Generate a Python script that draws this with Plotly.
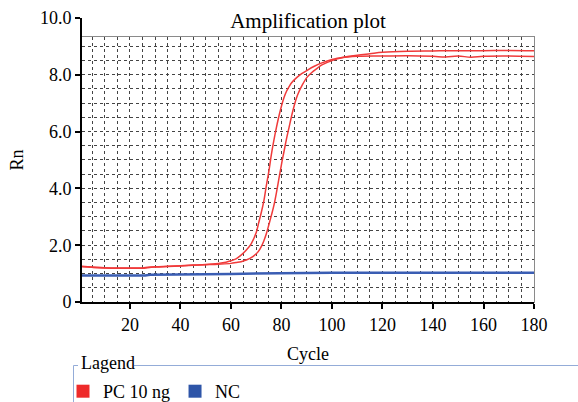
import plotly.graph_objects as go

# ---- data ----
pc_a_cycle = [1, 5, 10, 15, 20, 25, 27, 30, 35, 40, 45, 50, 55, 58, 60, 62, 64, 66, 68, 70, 71, 72, 73, 74, 75,
              76, 77, 78, 79, 80, 81, 82, 83, 84, 86, 88, 90, 93, 96, 100, 105, 110, 115, 120, 130, 140, 150,
              160, 170, 180]
pc_a_rn = [1.26, 1.23, 1.21, 1.20, 1.20, 1.20, 1.22, 1.24, 1.26, 1.28, 1.30, 1.32, 1.36, 1.40, 1.45, 1.52, 1.65,
           1.82, 2.05, 2.45, 2.80, 3.15, 3.55, 4.10, 4.60, 5.20, 5.70, 6.15, 6.55, 6.90, 7.20, 7.42, 7.58, 7.72,
           7.90, 8.04, 8.15, 8.30, 8.42, 8.54, 8.63, 8.69, 8.74, 8.79, 8.83, 8.84, 8.85, 8.85, 8.86, 8.85]

pc_b_cycle = [1, 5, 10, 15, 20, 25, 27, 30, 35, 40, 45, 50, 55, 60, 62, 64, 66, 68, 70, 71, 72, 73, 74, 75, 76,
              77, 78, 79, 80, 81, 82, 83, 84, 85, 86, 87, 88, 90, 92, 94, 96, 100, 104, 110, 120, 130, 140, 145,
              150, 155, 160, 170, 180]
pc_b_rn = [1.24, 1.22, 1.20, 1.19, 1.19, 1.19, 1.21, 1.23, 1.25, 1.27, 1.29, 1.31, 1.33, 1.36, 1.39, 1.42, 1.48,
           1.56, 1.70, 1.80, 1.95, 2.15, 2.40, 2.72, 3.05, 3.40, 3.85, 4.35, 4.85, 5.30, 5.75, 6.15, 6.55, 6.90,
           7.20, 7.42, 7.60, 7.90, 8.08, 8.22, 8.35, 8.50, 8.60, 8.65, 8.66, 8.67, 8.65, 8.63, 8.66, 8.62, 8.65,
           8.66, 8.64]

nc_cycle = [1, 10, 20, 26, 28, 35, 40, 50, 60, 70, 73, 75, 80, 90, 100, 120, 140, 160, 170, 180]
nc_rn = [0.93, 0.93, 0.93, 0.93, 0.96, 0.96, 0.97, 0.98, 0.99, 1.00, 1.00, 1.02, 1.03, 1.03, 1.03, 1.03, 1.03,
         1.04, 1.04, 1.03]

x_tick_vals = [20, 40, 60, 80, 100, 120, 140, 160, 180]
y_tick_vals = [0, 2, 4, 6, 8, 10]
y_tick_text = ["0", "2.0", "4.0", "6.0", "8.0", "10.0"]
x_grid_vals = list(range(5, 180, 5))
y_grid_vals = [v / 2 for v in range(1, 19)]
grid_top = 9.33

series_names = ["PC 10 ng", "NC"]
legend_title = "Lagend"
red = "#f03a3a"
blue = "#3a5db3"

FONT = "'Liberation Serif', 'DejaVu Serif', serif"

fig = go.Figure()

# empty trace on grid subplot so it renders
fig.add_trace(go.Scatter(x=[None], y=[None], xaxis="x", yaxis="y", showlegend=False, hoverinfo="skip"))

fig.add_trace(go.Scatter(x=nc_cycle, y=nc_rn, mode="lines", line=dict(color=blue, width=2.5),
                         xaxis="x2", yaxis="y2", showlegend=False))
fig.add_trace(go.Scatter(x=pc_a_cycle, y=pc_a_rn, mode="lines", line=dict(color=red, width=1.5, shape="spline"),
                         xaxis="x2", yaxis="y2", showlegend=False))
fig.add_trace(go.Scatter(x=pc_b_cycle, y=pc_b_rn, mode="lines", line=dict(color=red, width=1.5, shape="spline"),
                         xaxis="x2", yaxis="y2", showlegend=False))

# legend entries
fig.add_trace(go.Scatter(x=[None], y=[None], mode="markers", name=series_names[0],
                         marker=dict(symbol="square", size=13, color="#ee2a2a"), xaxis="x2", yaxis="y2"))
fig.add_trace(go.Scatter(x=[None], y=[None], mode="markers", name=series_names[1],
                         marker=dict(symbol="square", size=13, color="#2e55a8"), xaxis="x2", yaxis="y2"))

ypx = lambda p: (302 - p) / 284
xpx = lambda p: (p - 82) / 452

fig.update_layout(
    width=578, height=402,
    margin=dict(l=82, r=44, t=18, b=100, autoexpand=False),
    paper_bgcolor="white",
    plot_bgcolor="rgba(0,0,0,0)",
    font=dict(family=FONT, size=18, color="black"),
    title=dict(text="Amplification plot", x=(82 + 534) / 2 / 578, xanchor="center",
               y=1 - 21 / 402, yanchor="middle", font=dict(family=FONT, size=21, color="black")),
    xaxis=dict(domain=[0, 1], range=[1, 180], anchor="y", tickvals=x_grid_vals, showticklabels=False,
               ticks="", showgrid=True, gridcolor="#444", griddash="dot", gridwidth=1, zeroline=False,
               showline=True, mirror=True, linecolor="#8a8a8a", linewidth=1, automargin=False),
    yaxis=dict(domain=[0, grid_top / 10], range=[0, grid_top], anchor="x", tickvals=y_grid_vals,
               showticklabels=False, ticks="", showgrid=True, gridcolor="#444", griddash="dot", gridwidth=1,
               zeroline=False, showline=True, mirror=True, linecolor="#8a8a8a", linewidth=1, automargin=False),
    xaxis2=dict(domain=[0, 1], range=[1, 180], anchor="y2", tickvals=x_tick_vals, showgrid=False,
                zeroline=False, showline=True, linecolor="black", linewidth=2, ticks="outside", ticklen=5,
                tickwidth=2, tickcolor="black", tickfont=dict(family=FONT, size=18), automargin=False,
                title=dict(text="Cycle", standoff=14, font=dict(family=FONT, size=18))),
    yaxis2=dict(domain=[0, 1], range=[0, 10], anchor="x2", tickvals=y_tick_vals, ticktext=y_tick_text,
                showgrid=False, zeroline=False, showline=True, linecolor="black", linewidth=2,
                ticks="outside", ticklen=5, tickwidth=2, tickcolor="black", tickfont=dict(family=FONT, size=18),
                automargin=False,
                title=dict(text="Rn", standoff=12, font=dict(family=FONT, size=18))),
    legend=dict(orientation="h", x=xpx(63), y=ypx(373), xanchor="left", yanchor="top",
                bgcolor="rgba(0,0,0,0)", font=dict(family=FONT, size=18),
                itemwidth=30, tracegroupgap=0),
)

fig.add_annotation(text=legend_title, xref="paper", yref="paper", x=xpx(79), y=ypx(363),
                   xanchor="left", yanchor="middle", showarrow=False, font=dict(family=FONT, size=18))

# group-box frame for the legend
box_col = "#94acd8"
fig.add_shape(type="line", xref="paper", yref="paper", x0=xpx(134), x1=xpx(578), y0=ypx(365.5), y1=ypx(365.5),
              line=dict(color=box_col, width=1))
fig.add_shape(type="line", xref="paper", yref="paper", x0=xpx(73.5), x1=xpx(78), y0=ypx(365.5), y1=ypx(365.5),
              line=dict(color=box_col, width=1))
fig.add_shape(type="line", xref="paper", yref="paper", x0=xpx(73.5), x1=xpx(73.5), y0=ypx(365.5), y1=ypx(402),
              line=dict(color=box_col, width=1))

fig.write_html("out.html", config={"displayModeBar": False},
               post_script="document.body.style.margin='0';document.body.style.overflow='hidden';")
